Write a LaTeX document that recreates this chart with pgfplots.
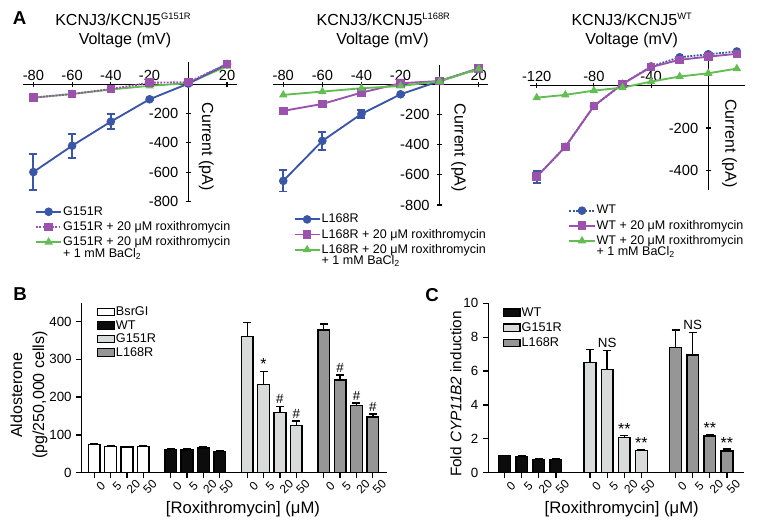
\documentclass[border=0pt]{standalone}
\usepackage{fontspec}
\setmainfont{Liberation Sans}
\usepackage{pgfplots}
\pgfplotsset{compat=1.18}
\definecolor{cblue}{RGB}{58,86,166}
\definecolor{cpurple}{RGB}{155,82,172}
\definecolor{cgreen}{RGB}{98,190,82}
\definecolor{lgray}{RGB}{217,219,219}
\definecolor{mgray}{RGB}{150,150,150}
\definecolor{bblack}{RGB}{12,12,12}
\newcommand{\fs}[1]{\fontsize{#1}{#1}\selectfont}
\pgfplotsset{
  Astyle/.style={
    scale only axis, axis lines=middle, axis line style={line width=1pt,-},
    tick style={line width=0.8pt,black}, major tick length=4pt,
    /pgf/number format/assume math mode=true,
    ticklabel style={font=\fs{11}},
    xticklabel style={anchor=south,yshift=1pt},
    yticklabel style={anchor=east,xshift=-2pt},
    clip=false,
    legend cell align=left,
    legend style={draw=none,fill=none,inner sep=0pt,font=\fs{9.4},row sep=1.5pt,
      nodes={inner sep=0.8pt}},
    legend image code/.code={\draw[mark repeat=2,mark phase=2,##1] plot coordinates {(0pt,0pt)(9.4pt,0pt)(18.8pt,0pt)};},
  },
  Bstyle/.style={
    scale only axis, axis x line*=bottom, axis y line*=left,
    axis line style={line width=1pt,-},
    tick align=outside, major tick length=4pt, tick style={line width=1pt,black},
    /pgf/number format/assume math mode=true,
    yticklabel style={font=\fs{10}},
    xticklabel style={font=\fs{9},rotate=45,anchor=center,yshift=-8pt,xshift=-1pt},
    clip=false,
    legend cell align=left,
    legend style={draw=none,fill=none,inner sep=0pt,font=\fs{9.5},row sep=1.6pt,
      nodes={inner sep=0.8pt,text height=6.8pt,text depth=1.4pt}},
    legend image code/.code={\draw[##1,line width=1pt,draw=black] (0pt,-2.8pt) rectangle (12.5pt,2.8pt);},
  },
  barp/.style={ybar,bar width=8.8pt,bar shift=0pt,draw=black,line width=1.1pt,fill=#1,
    error bars/.cd, y dir=plus, y explicit,
    error bar style={line width=1.1pt,black},
    error mark options={rotate=90,mark size=3pt,line width=1.1pt,black}},
  Aerr/.style={error bars/.cd, y dir=both, y explicit,
    error bar style={line width=1.3pt},
    error mark options={rotate=90,mark size=3pt,line width=1.3pt}},
}
\begin{document}
\begin{tikzpicture}
\path[use as bounding box] (0,0) rectangle (568.5pt,-397.5pt);

% ---------- A left ----------
\begin{axis}[Astyle, at={(17.03pt,-150.98pt)}, anchor=south west,
  width=160.5pt, height=104.7pt,
  xmin=-85.5, xmax=25, ymin=-800, ymax=155,
  xtick={-80,-60,-40,-20,20}, ytick={-800,-600,-400,-200},
  legend style={at={(0.057,-0.027)},anchor=north west}]
\addplot[cgreen,line width=1.4pt,mark=triangle*,mark size=2.3pt,forget plot]
  coordinates {(-80,-91)(-60,-66)(-40,-35)(-20,-10)(0,8)(20,125)};
\addplot[cblue,line width=1.4pt,mark=*,mark size=2.5pt,Aerr]
  coordinates {(-80,-600)+-(0,125) (-60,-420)+-(0,82) (-40,-255)+-(0,52) (-20,-102)+-(0,8) (0,5)+-(0,0) (20,139)+-(0,0)};
\addlegendentry{G151R}
\addplot[cpurple,line width=1.4pt,densely dotted,mark=square*,mark size=2.5pt,mark options={solid}]
  coordinates {(-80,-91)(-60,-66)(-40,-32)(-20,11)(0,15)(20,139)};
\addlegendentry{G151R + 20 μM roxithromycin}
\addlegendimage{cgreen,line width=1.4pt,mark=triangle*,mark size=2.3pt}
\addlegendentry{\begin{tabular}[t]{@{}l@{}}G151R + 20 μM roxithromycin\\[-1pt]+ 1 mM BaCl\textsubscript{2}\end{tabular}}
\node[rotate=-90,anchor=south,inner sep=0pt,font=\fs{12}] at (axis cs:5.3,-426) {Current (pA)};
\end{axis}

% ---------- A middle ----------
\begin{axis}[Astyle, at={(204.53pt,-153.75pt)}, anchor=south west,
  width=161.7pt, height=105.2pt,
  xmin=-85.4, xmax=24.9, ymin=-800, ymax=130,
  xtick={-80,-60,-40,-20,20}, ytick={-800,-600,-400,-200},
  legend style={at={(0.096,-0.055)},anchor=north west}]
\addplot[cblue,line width=1.4pt,mark=*,mark size=2.5pt,Aerr]
  coordinates {(-80,-640)+-(0,70) (-60,-375)+-(0,60) (-40,-196)+-(0,28) (-20,-66)+-(0,6) (0,22)+-(0,0) (20,105)+-(0,0)};
\addlegendentry{L168R}
\addplot[cpurple,line width=1.4pt,mark=square*,mark size=2.5pt]
  coordinates {(-80,-176)(-60,-130)(-40,-55)(-20,7)(0,22)(20,105)};
\addlegendentry{L168R + 20 μM roxithromycin}
\addplot[cgreen,line width=1.4pt,mark=triangle*,mark size=2.3pt]
  coordinates {(-80,-70)(-60,-48)(-40,-26)(-20,-11)(0,20)(20,103)};
\addlegendentry{\begin{tabular}[t]{@{}l@{}}L168R + 20 μM roxithromycin\\[-1pt]+ 1 mM BaCl\textsubscript{2}\end{tabular}}
\node[rotate=-90,anchor=south,inner sep=0pt,font=\fs{12}] at (axis cs:5.8,-422) {Current (pA)};
\end{axis}

% ---------- A right ----------
\begin{axis}[Astyle, at={(397.5pt,-142.5pt)}, anchor=south west,
  width=161.25pt, height=105pt,
  xmin=-124.7, xmax=25.7, ymin=-490, ymax=165,
  xtick={-120,-80,-40}, ytick={-400,-200},
  legend style={at={(0.178,-0.1)},anchor=north west}]
\addplot[cblue,line width=1.4pt,densely dotted,mark=*,mark size=2.5pt,mark options={solid},Aerr]
  coordinates {(-120,-428)+-(0,28) (-100,-288)+-(0,10) (-80,-97)+-(0,6) (-60,6)+-(0,0) (-40,88)+-(0,0) (-20,131)+-(0,0) (0,145)+-(0,0) (20,158)+-(0,0)};
\addlegendentry{WT}
\addplot[cpurple,line width=1.4pt,mark=square*,mark size=2.5pt]
  coordinates {(-120,-428)(-100,-288)(-80,-97)(-60,6)(-40,85)(-20,119)(0,134)(20,147)};
\addlegendentry{WT + 20 μM roxithromycin}
\addplot[cgreen,line width=1.4pt,mark=triangle*,mark size=2.3pt]
  coordinates {(-120,-58)(-100,-45)(-80,-25)(-60,-11)(-40,17)(-20,41)(0,56)(20,78)};
\addlegendentry{\begin{tabular}[t]{@{}l@{}}WT + 20 μM roxithromycin\\[-1pt]+ 1 mM BaCl\textsubscript{2}\end{tabular}}
\node[rotate=-90,anchor=south,inner sep=0pt,font=\fs{12}] at (axis cs:9.4,-272) {Current (pA)};
\end{axis}

% ---------- B ----------
\begin{axis}[Bstyle, at={(61.28pt,-354.53pt)}, anchor=south west,
  width=228.75pt, height=127.5pt,
  xmin=-0.765, xmax=17.89, ymin=0, ymax=450,
  ytick={0,100,200,300,400},
  xtick={0,1,2,3,4.68,5.68,6.68,7.68,9.36,10.36,11.36,12.36,14.04,15.04,16.04,17.04},
  xticklabels={0,5,20,50,0,5,20,50,0,5,20,50,0,5,20,50},
  legend style={at={(0.049,0.985)},anchor=north west,row sep=0.3pt}]
\addplot[barp=white] coordinates {(0,74)+-(0,4) (1,69)+-(0,3) (2,68)+-(0,2) (3,69)+-(0,3)};
\addlegendentry{BsrGI}
\addplot[barp=bblack] coordinates {(4.68,61)+-(0,3) (5.68,60)+-(0,3) (6.68,66)+-(0,3) (7.68,56)+-(0,3)};
\addlegendentry{WT}
\addplot[barp=lgray] coordinates {(9.36,360)+-(0,38) (10.36,233)+-(0,35) (11.36,159)+-(0,16) (12.36,124.5)+-(0,12)};
\addlegendentry{G151R}
\addplot[barp=mgray] coordinates {(14.04,378)+-(0,16) (15.04,245)+-(0,14) (16.04,178)+-(0,7) (17.04,147)+-(0,9)};
\addlegendentry{L168R}
\node[anchor=south,inner sep=1pt,font=\fs{12}] at (axis cs:10.36,270) {*};
\node[anchor=south,inner sep=1.5pt,font=\fs{10}] at (axis cs:11.36,176) {\#};
\node[anchor=south,inner sep=1.5pt,font=\fs{10}] at (axis cs:12.36,137) {\#};
\node[anchor=south,inner sep=1.5pt,font=\fs{10}] at (axis cs:15.04,260) {\#};
\node[anchor=south,inner sep=1.5pt,font=\fs{10}] at (axis cs:16.04,186) {\#};
\node[anchor=south,inner sep=1.5pt,font=\fs{10}] at (axis cs:17.04,157) {\#};
\end{axis}

% ---------- C ----------
\begin{axis}[Bstyle, at={(366.23pt,-354.53pt)}, anchor=south west,
  width=191.8pt, height=127.05pt,
  xmin=-0.95, xmax=14.0, ymin=0, ymax=10,
  ytick={0,2,4,6,8,10},
  xtick={0,1,2,3,5,6,7,8,10,11,12,13},
  xticklabels={0,5,20,50,0,5,20,50,0,5,20,50},
  legend style={at={(0.055,0.985)},anchor=north west}]
\addplot[barp=bblack] coordinates {(0,1.0)+-(0,0.03) (1,0.96)+-(0,0.03) (2,0.79)+-(0,0.03) (3,0.77)+-(0,0.03)};
\addlegendentry{WT}
\addplot[barp=lgray] coordinates {(5,6.5)+-(0,0.78) (6,6.1)+-(0,1.1) (7,2.07)+-(0,0.12) (8,1.3)+-(0,0.05)};
\addlegendentry{G151R}
\addplot[barp=mgray] coordinates {(10,7.38)+-(0,1.05) (11,6.95)+-(0,1.34) (12,2.17)+-(0,0.07) (13,1.28)+-(0,0.12)};
\addlegendentry{L168R}
\node[anchor=south,inner sep=2pt,font=\fs{10}] at (axis cs:6,7.2) {NS};
\node[anchor=south,inner sep=2pt,font=\fs{10}] at (axis cs:11,8.29) {NS};
\node[anchor=south,inner sep=0.5pt,font=\fs{12}] at (axis cs:7,2.19) {**};
\node[anchor=south,inner sep=0.5pt,font=\fs{12}] at (axis cs:8,1.35) {**};
\node[anchor=south,inner sep=0.5pt,font=\fs{12}] at (axis cs:12,2.24) {**};
\node[anchor=south,inner sep=0.5pt,font=\fs{12}] at (axis cs:13,1.40) {**};
\end{axis}

% ---------- text ----------
\begin{scope}[x=0.75pt,y=-0.75pt]
\node[anchor=base west,inner sep=0pt,font=\bfseries\fs{14}] at (12.7,25) {A};
\node[anchor=base west,inner sep=0pt,font=\bfseries\fs{14}] at (13,300.7) {B};
\node[anchor=base west,inner sep=0pt,font=\bfseries\fs{14}] at (425,301.7) {C};
\node[anchor=base,inner sep=0pt,font=\fs{12}] at (123,26) {KCNJ3/KCNJ5\raisebox{0.8ex}{\fs{7}G151R}};
\node[anchor=base,inner sep=0pt,font=\fs{12}] at (125,45) {Voltage (mV)};
\node[anchor=base,inner sep=0pt,font=\fs{12}] at (383.3,26) {KCNJ3/KCNJ5\raisebox{0.8ex}{\fs{7}L168R}};
\node[anchor=base,inner sep=0pt,font=\fs{12}] at (382.5,45) {Voltage (mV)};
\node[anchor=base,inner sep=0pt,font=\fs{12}] at (631.7,26) {KCNJ3/KCNJ5\raisebox{0.8ex}{\fs{7}WT}};
\node[anchor=base,inner sep=0pt,font=\fs{12}] at (631.7,45) {Voltage (mV)};
\node[rotate=90,align=center,inner sep=0pt,font=\fontsize{12}{16.5}\selectfont] at (29,395) {Aldosterone\\(pg/250,000 cells)};
\node[rotate=90,inner sep=0pt,font=\fs{11.5}] at (456,394) {Fold \textit{CYP11B2} induction};
\node[anchor=base,inner sep=0pt,font=\fs{12.5}] at (243,514) {[Roxithromycin] (μM)};
\node[anchor=base,inner sep=0pt,font=\fs{12.5}] at (621.7,514) {[Roxithromycin] (μM)};
\end{scope}
\end{tikzpicture}
\end{document}
